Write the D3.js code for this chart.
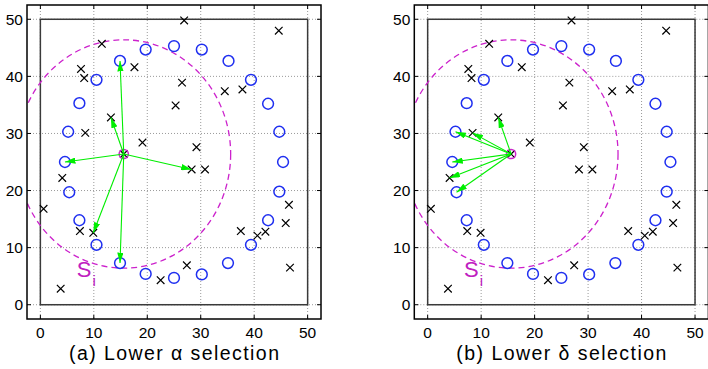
<!DOCTYPE html>
<html>
<head>
<meta charset="utf-8">
<script src="https://cdn.jsdelivr.net/npm/d3@7"></script>
<style>
  html, body { margin: 0; padding: 0; background: #fff; }
  svg { display: block; font-family: "Liberation Sans", Arial, Helvetica, sans-serif; }
</style>
</head>
<body>
<div id="root"></div>
<script>
// Points on the ring (blue circles)
const ringX = [14.9, 19.7, 25.0, 30.2, 35.2, 39.4, 42.6, 44.7, 45.4, 44.7, 42.6, 39.4,
               35.1, 30.2, 25.0, 19.7, 14.9, 10.5, 7.3, 5.4, 4.6, 5.2, 7.3, 10.5];
const ringY = [42.7, 44.7, 45.3, 44.7, 42.7, 39.4, 35.2, 30.3, 25.0, 19.8, 14.8, 10.5,
               7.3, 5.3, 4.7, 5.4, 7.3, 10.5, 14.8, 19.7, 25.0, 30.3, 35.3, 39.4];

// Scattered points (black crosses)
const crossX = [11.5, 7.6, 8.2, 17.6, 26.5, 25.3, 13.2, 8.4, 19.1, 26.9, 44.6, 34.5, 37.8,
                29.2, 28.3, 30.8, 46.5, 45.9, 37.5, 40.6, 42.1, 27.4, 22.5, 46.7, 4.1,
                0.6, 7.4, 9.9, 3.8, 15.6];
const crossY = [45.7, 41.3, 39.7, 41.6, 38.9, 34.9, 32.8, 30.1, 28.4, 49.8, 48.0, 37.4, 37.7,
                27.6, 23.7, 23.7, 17.5, 14.3, 12.9, 12.1, 12.8, 6.9, 4.3, 6.5, 22.2,
                16.8, 12.9, 12.6, 2.8, 26.4];

// Query point and its neighbourhood S_i
const center = [15.6, 26.4];
const radius = 20;

// Arrow targets for each panel
const alphaX = [14.9, 13.2, 4.6, 28.3, 9.9, 14.9];
const alphaY = [42.7, 32.8, 25.0, 23.7, 12.6, 7.3];
const deltaX = [13.2, 5.2, 8.4, 4.6, 4.1, 5.4];
const deltaY = [32.8, 30.3, 30.1, 25.0, 22.2, 19.7];

const ticks = [0, 10, 20, 30, 40, 50];
const captions = ["(a) Lower \u03b1 selection", "(b) Lower \u03b4 selection"];

const W = 708, H = 369;
const svg = d3.select("#root").append("svg")
  .attr("width", W)
  .attr("height", H);

const defs = svg.append("defs");
defs.append("marker")
    .attr("id", "arrowHead")
    .attr("viewBox", "0 0 10 6")
    .attr("refX", 10)
    .attr("refY", 3)
    .attr("markerUnits", "userSpaceOnUse")
    .attr("markerWidth", 10.5)
    .attr("markerHeight", 6.3)
    .attr("orient", "auto")
  .append("path")
    .attr("d", "M0,0L10,3L0,6Z")
    .attr("fill", "#00ee00");

function drawPanel(idx, left, right, tx, ty) {
  const top = 5, bottom = 319;
  const x = d3.scaleLinear().domain([-2.5, 52.5]).range([left, right]);
  const y = d3.scaleLinear().domain([-2.5, 52.5]).range([bottom, top]);
  const g = svg.append("g");

  defs.append("clipPath")
      .attr("id", "clip" + idx)
    .append("rect")
      .attr("x", left).attr("y", top)
      .attr("width", right - left).attr("height", bottom - top);

  // dotted grid
  g.append("g").selectAll("line.gx").data(ticks).join("line")
      .attr("x1", d => x(d)).attr("x2", d => x(d))
      .attr("y1", top).attr("y2", bottom)
      .attr("stroke", "#9a9a9a").attr("stroke-width", 1)
      .attr("stroke-dasharray", "1,2");
  g.append("g").selectAll("line.gy").data(ticks).join("line")
      .attr("y1", d => y(d)).attr("y2", d => y(d))
      .attr("x1", left).attr("x2", right)
      .attr("stroke", "#9a9a9a").attr("stroke-width", 1)
      .attr("stroke-dasharray", "1,2");

  // inner square 0..50
  g.append("rect")
      .attr("x", x(0)).attr("y", y(50))
      .attr("width", x(50) - x(0)).attr("height", y(0) - y(50))
      .attr("fill", "none")
      .attr("stroke", "#3a3a3a")
      .attr("stroke-width", 1.5);

  const plot = g.append("g").attr("clip-path", `url(#clip${idx})`);

  // neighbourhood circle
  plot.append("ellipse")
      .attr("cx", x(center[0])).attr("cy", y(center[1]))
      .attr("rx", x(radius) - x(0)).attr("ry", y(0) - y(radius))
      .attr("fill", "none")
      .attr("stroke", "#cc22cc")
      .attr("stroke-width", 1.3)
      .attr("stroke-dasharray", "6,4");

  // ring points
  plot.selectAll("circle.ring").data(d3.range(ringX.length)).join("circle")
      .attr("cx", i => x(ringX[i])).attr("cy", i => y(ringY[i]))
      .attr("r", 5.4)
      .attr("fill", "none")
      .attr("stroke", "#1f2ff0")
      .attr("stroke-width", 1.5);

  // crosses
  const s = 3.8;
  plot.selectAll("path.cross").data(d3.range(crossX.length)).join("path")
      .attr("d", i => {
        const cx = x(crossX[i]), cy = y(crossY[i]);
        return `M${cx - s},${cy - s}L${cx + s},${cy + s}M${cx - s},${cy + s}L${cx + s},${cy - s}`;
      })
      .attr("stroke", "#000")
      .attr("stroke-width", 1.2);

  // selected point marker
  plot.append("circle")
      .attr("cx", x(center[0])).attr("cy", y(center[1]))
      .attr("r", 4.6)
      .attr("fill", "none")
      .attr("stroke", "#cc22cc")
      .attr("stroke-width", 1.5);

  // arrows
  plot.selectAll("line.arrow").data(d3.range(tx.length)).join("line")
      .attr("x1", x(center[0])).attr("y1", y(center[1]))
      .attr("x2", i => x(tx[i])).attr("y2", i => y(ty[i]))
      .attr("stroke", "#00ee00")
      .attr("stroke-width", 1.1)
      .attr("marker-end", "url(#arrowHead)");

  // S_i label
  const lab = g.append("text")
      .attr("x", x(6.8)).attr("y", y(4.8))
      .attr("fill", "#c020c0")
      .style("font-size", "22px");
  lab.append("tspan").text("S");
  lab.append("tspan").text("i")
      .attr("dx", 1).attr("dy", 9)
      .style("font-size", "15px");

  // frame
  g.append("rect")
      .attr("x", left).attr("y", top)
      .attr("width", right - left).attr("height", bottom - top)
      .attr("fill", "none")
      .attr("stroke", "#000")
      .attr("stroke-width", 1.5);

  // inward ticks on all sides
  const tl = 4;
  g.append("g").selectAll("path").data(ticks).join("path")
      .attr("d", d => `M${x(d)},${bottom}v${-tl}M${x(d)},${top}v${tl}` +
                      `M${left},${y(d)}h${tl}M${right},${y(d)}h${-tl}`)
      .attr("stroke", "#000")
      .attr("stroke-width", 1);

  // tick labels
  g.append("g").selectAll("text").data(ticks).join("text")
      .attr("x", d => x(d)).attr("y", 338)
      .attr("text-anchor", "middle")
      .style("font-size", "15.5px")
      .text(d => d);
  g.append("g").selectAll("text").data(ticks).join("text")
      .attr("x", left - 4).attr("y", d => y(d) + 5.5)
      .attr("text-anchor", "end")
      .style("font-size", "15.5px")
      .text(d => d);

  // caption
  g.append("text")
      .attr("x", x(25)).attr("y", 360)
      .attr("text-anchor", "middle")
      .attr("textLength", 210)
      .attr("lengthAdjust", "spacing")
      .style("font-size", "19.5px")
      .text(captions[idx]);
}

drawPanel(0, 27, 321, alphaX, alphaY);
drawPanel(1, 414.3, 708.4, deltaX, deltaY);
</script>
</body>
</html>
